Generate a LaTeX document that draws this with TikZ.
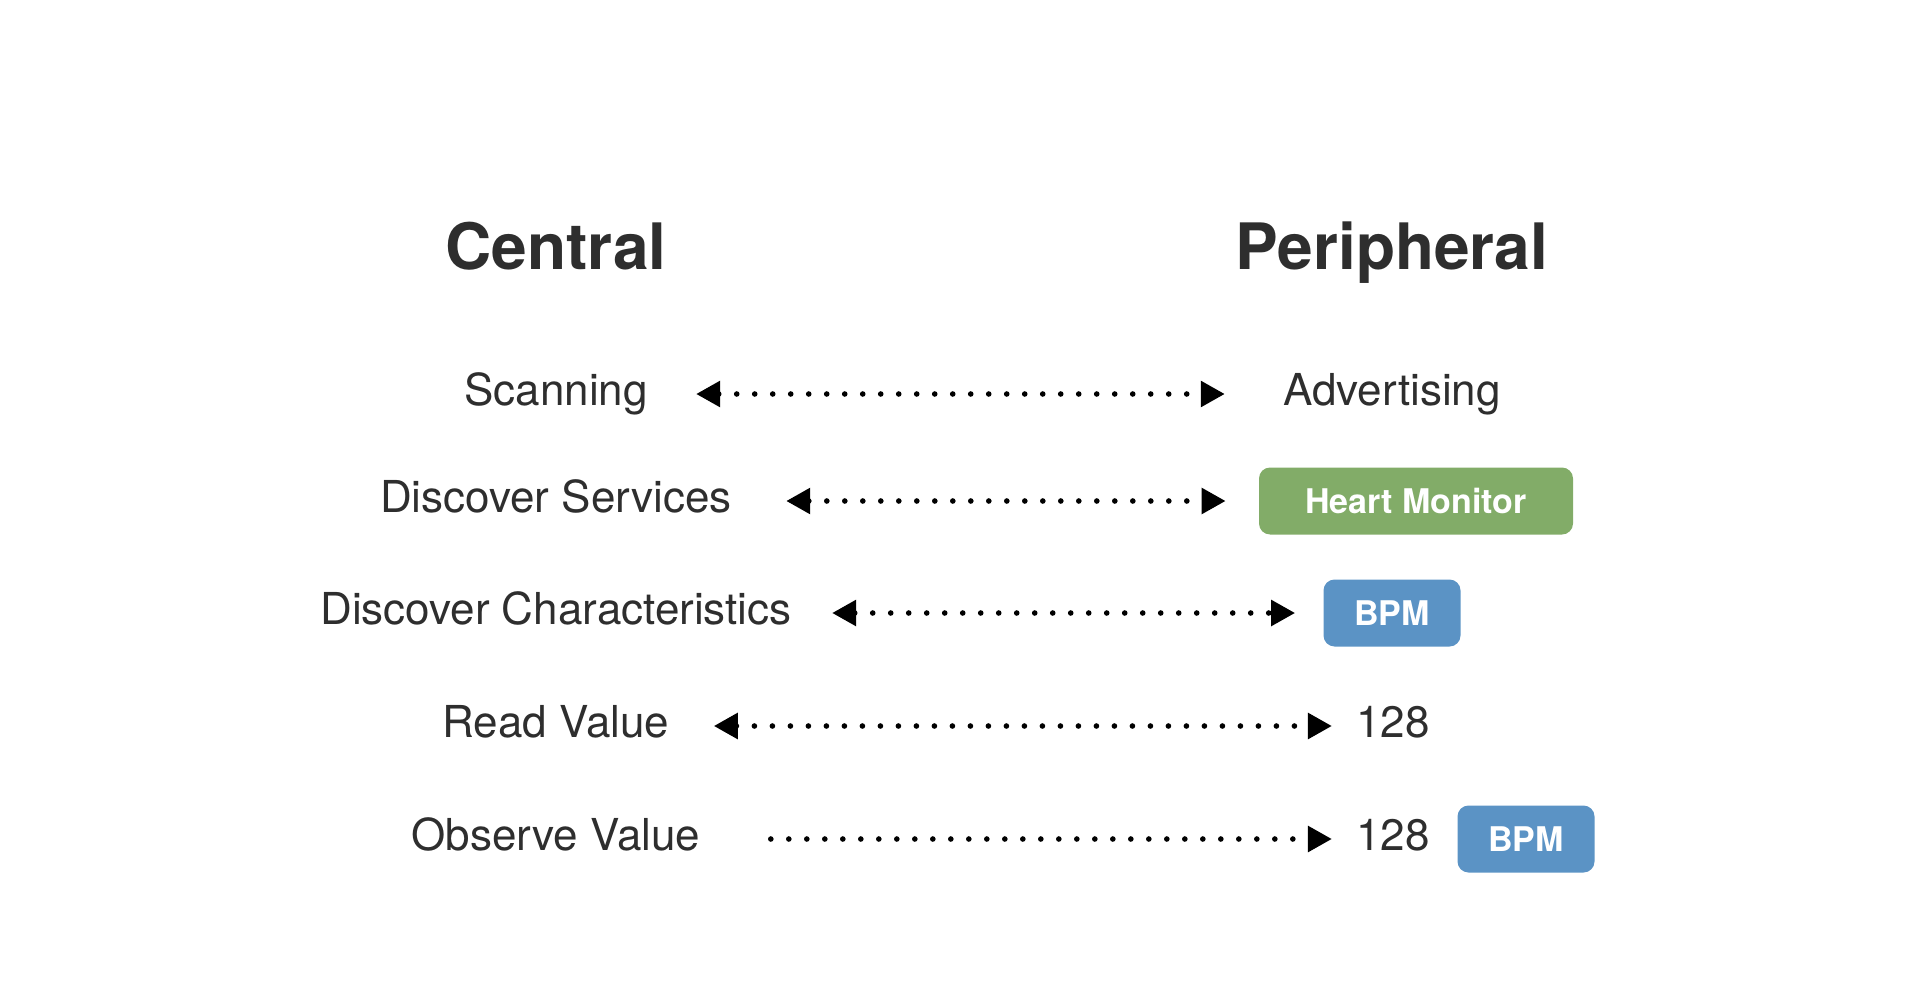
\documentclass[tikz,border=0pt]{standalone}
\usepackage{fontspec}
\setmainfont{TeX Gyre Heros}
\usetikzlibrary{arrows.meta}
\definecolor{txtgray}{HTML}{2E2E2E}
\definecolor{hmgreen}{HTML}{82AC68}
\definecolor{bpmblue}{HTML}{5B93C5}

\tikzset{
  head/.style={font=\fontsize{32}{38}\selectfont\bfseries, text=txtgray, anchor=base, inner sep=0pt},
  role/.style={font=\fontsize{22}{26}\selectfont, text=txtgray, inner sep=0pt, text height=16.7pt, text depth=4.8pt},
  tag/.style={rounded corners=5.5pt, text=white, font=\fontsize{17}{20}\selectfont\bfseries, minimum height=33.5pt, inner sep=0pt, text height=12.2pt, text depth=0pt},
  link/.style={black, line width=2.8pt, line cap=round, dash pattern=on 0pt off 9pt}
}

\begin{document}
\begin{tikzpicture}[x=0.5pt, y=-0.5pt, >={Triangle[length=12pt, width=12.5pt]}]

\useasboundingbox (0,0) rectangle (1920,1005);

% column heads
\node[head] (central) at (556,270) {Central};
\node[head] (peripheral) at (1392,270) {Peripheral};

% central side
\node[role] (scanning) at (556,394) {Scanning};
\node[role] (discsvc) at (556,501) {Discover Services};
\node[role] (discchar) at (556,613) {Discover Characteristics};
\node[role] (readval) at (556,726) {Read Value};
\node[role] (obsval) at (556,839) {Observe Value};

% peripheral side
\node[role] (advertising) at (1392,394) {Advertising};
\node[tag, fill=hmgreen, minimum width=157pt] (heartmon) at (1416,501) {Heart Monitor};
\node[tag, fill=bpmblue, minimum width=68.5pt] (bpmchar) at (1392,613) {BPM};
\node[role] (readnum) at (1393,726) {128};
\node[role] (obsnum) at (1393,839) {128};
\node[tag, fill=bpmblue, minimum width=68.5pt] (bpmunit) at (1526,839) {BPM};

% exchanges
\draw[link, <->, shorten <=24pt, shorten >=29pt] (scanning) -- (advertising);
\draw[link, <->, shorten <=27pt, shorten >=16.5pt] (discsvc) -- (heartmon);
\draw[link, <->, shorten <=20pt, shorten >=14pt] (discchar) -- (bpmchar);
\draw[link, <->, shorten <=22pt, shorten >=12pt] (readval) -- (readnum);
\draw[link, ->, shorten <=35pt, shorten >=12pt] (obsval) -- (obsnum);

\end{tikzpicture}
\end{document}
